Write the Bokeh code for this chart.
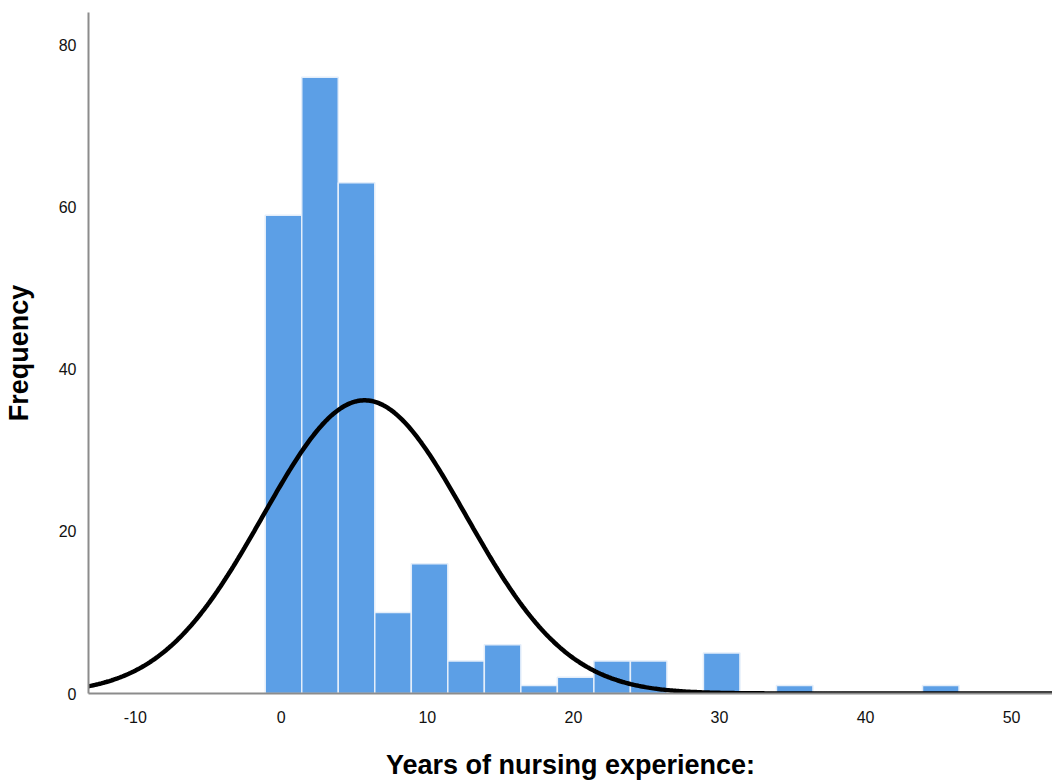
import numpy as np
from bokeh.plotting import figure
from bokeh.models import Range1d, ColumnDataSource
from bokeh.embed import file_html
from bokeh.resources import INLINE

# Histogram of years of nursing experience, 2.5-year bins
bin_start = -1.1
bin_width = 2.5
counts = [59, 76, 63, 10, 16, 4, 6, 1, 2, 4, 4, 0, 5, 0, 1, 0, 0, 0, 1]

# Normal curve fitted to the same sample
mean_years = 5.7
sd_years = 6.95

x_ticks = [-10, 0, 10, 20, 30, 40, 50]
y_ticks = [0, 20, 40, 60, 80]

BAR_FILL = "#5C9FE6"
AXIS_GREY = "#8c8c8c"

# bins
lefts = [bin_start + i * bin_width for i in range(len(counts))]
bars = ColumnDataSource(dict(
    left=[l for l, c in zip(lefts, counts) if c > 0],
    right=[l + bin_width for l, c in zip(lefts, counts) if c > 0],
    top=[c for c in counts if c > 0],
))

x_lo, x_hi = -13.2, 52.8
p = figure(width=1052, height=782,
           x_range=Range1d(x_lo, x_hi), y_range=Range1d(0, 84),
           output_backend="svg", toolbar_location=None,
           min_border_left=88, min_border_right=0,
           min_border_top=12, min_border_bottom=88)
p.outline_line_color = None
p.xgrid.visible = False
p.ygrid.visible = False
p.background_fill_color = "white"
p.border_fill_color = "white"

p.quad(left="left", right="right", bottom=0, top="top", source=bars,
       fill_color=BAR_FILL, line_color="#e4eefa", line_width=1.5)

# fitted normal density scaled to counts
n_total = sum(counts)
xs = np.linspace(x_lo, x_hi, 600)
ys = n_total * bin_width / (sd_years * np.sqrt(2 * np.pi)) * np.exp(-0.5 * ((xs - mean_years) / sd_years) ** 2)
p.line(xs, ys, line_color="black", line_width=4.5)

for ax in (p.xaxis, p.yaxis):
    ax.axis_line_color = AXIS_GREY
    ax.axis_line_width = 2
    ax.major_tick_line_color = None
    ax.minor_tick_line_color = None
    ax.major_label_text_font = "Liberation Sans"
    ax.major_label_text_font_size = "16px"
    ax.major_label_text_color = "#111111"
    ax.axis_label_text_font = "Liberation Sans"
    ax.axis_label_text_font_style = "bold"
    ax.axis_label_text_color = "black"
    ax.axis_label_text_font_size = "27px"

p.xaxis.ticker = x_ticks
p.yaxis.ticker = y_ticks
p.xaxis.major_label_overrides = {t: str(t) for t in x_ticks}
p.xaxis.major_label_standoff = 11
p.yaxis.major_label_standoff = 6
p.xaxis.axis_label = "Years of nursing experience:"
p.yaxis.axis_label = "Frequency"
p.xaxis.axis_label_standoff = 24
p.yaxis.axis_label_standoff = 22

open("out.html", "w").write(file_html(p, INLINE))
